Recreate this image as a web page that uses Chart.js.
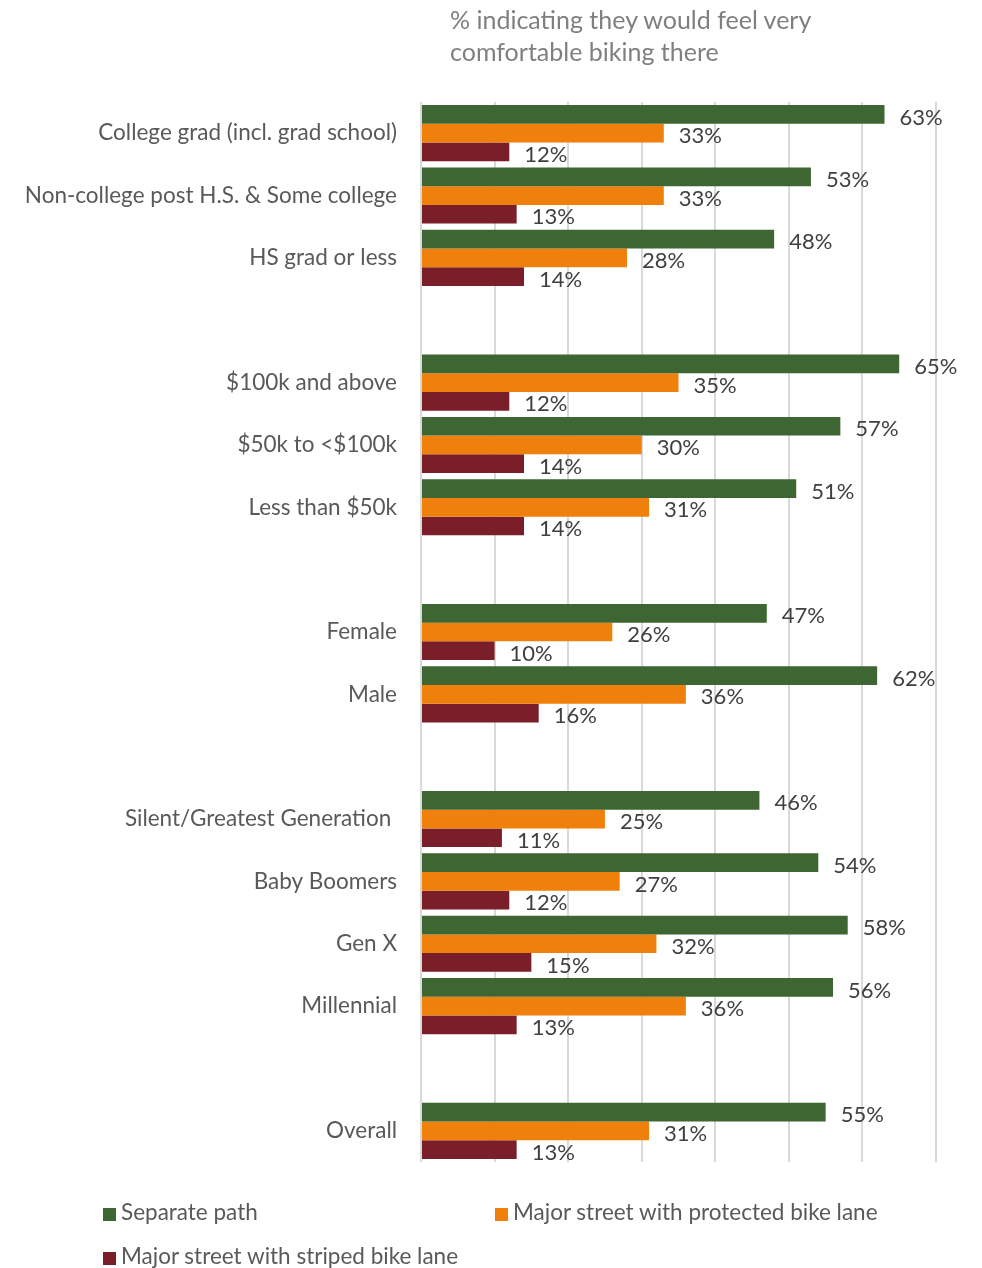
<!DOCTYPE html>
<html>
<head>
<meta charset="utf-8">
<script src="https://cdn.jsdelivr.net/npm/chart.js@4"></script>
<style>
  html, body { margin: 0; padding: 0; background: #fff; }
  #wrap { position: relative; width: 982px; height: 1268px; overflow: hidden; }
  #canvas { position: absolute; left: 0; top: 0; }
  .title { position: absolute; left: 450px; top: 3px; font: 25px Lato, sans-serif; line-height: 32px; color: #7f7f7f; }
  .key { position: absolute; font: 22.5px Lato, sans-serif; color: #595959; white-space: nowrap; }
  .key i { display: inline-block; width: 13px; height: 13px; margin-right: 5px; vertical-align: -1px; }
</style>
</head>
<body>
<div id="wrap">
  <canvas id="canvas" width="982" height="1268"></canvas>
  <div class="title">% indicating they would feel very<br>comfortable biking there</div>
  <div class="key" style="left:103px; top:1198px"><i style="background:#3d6632"></i>Separate path</div>
  <div class="key" style="left:495px; top:1198px"><i style="background:#f0800c"></i>Major street with protected bike lane</div>
  <div class="key" style="left:103px; top:1242px"><i style="background:#7a1f2a"></i>Major street with striped bike lane</div>
</div>
<script>
// empty strings are spacer rows between the groups
const categories = [
  "College grad (incl. grad school)", "Non-college post H.S. & Some college", "HS grad or less", "",
  "$100k and above", "$50k to <$100k", "Less than $50k", "",
  "Female", "Male", "",
  "Silent/Greatest Generation ", "Baby Boomers", "Gen X", "Millennial", "",
  "Overall"
];
const separatePath = [63, 53, 48, null, 65, 57, 51, null, 47, 62, null, 46, 54, 58, 56, null, 55];
const protectedLane = [33, 33, 28, null, 35, 30, 31, null, 26, 36, null, 25, 27, 32, 36, null, 31];
const stripedLane = [12, 13, 14, null, 12, 14, 14, null, 10, 16, null, 11, 12, 15, 13, null, 13];
const xTicks = [0, 10, 20, 30, 40, 50, 60, 70];

const barLabels = {
  id: "barLabels",
  afterDatasetsDraw(chart) {
    const ctx = chart.ctx;
    ctx.save();
    ctx.font = "22px Lato, sans-serif";
    ctx.fillStyle = "#404040";
    ctx.textAlign = "left";
    ctx.textBaseline = "middle";
    chart.data.datasets.forEach((ds, i) => {
      chart.getDatasetMeta(i).data.forEach((bar, j) => {
        const v = ds.data[j];
        if (v == null) return;
        ctx.fillText(v + "%", bar.x + 15, bar.y + 3);
      });
    });
    ctx.restore();
  }
};

Chart.defaults.font.family = "Lato, sans-serif";

new Chart(document.getElementById("canvas").getContext("2d"), {
  type: "bar",
  data: {
    labels: categories,
    datasets: [
      { label: "Separate path", data: separatePath, backgroundColor: "#3d6632" },
      { label: "Major street with protected bike lane", data: protectedLane, backgroundColor: "#f0800c" },
      { label: "Major street with striped bike lane", data: stripedLane, backgroundColor: "#7a1f2a" }
    ]
  },
  options: {
    indexAxis: "y",
    responsive: false,
    animation: false,
    layout: { padding: { left: 0, right: 46, top: 102, bottom: 106 } },
    datasets: { bar: { categoryPercentage: 0.9, barPercentage: 1.0 } },
    plugins: { legend: { display: false }, tooltip: { enabled: false } },
    scales: {
      x: {
        min: 0,
        max: 70,
        afterBuildTicks: (s) => { s.ticks = xTicks.map((v) => ({ value: v })); },
        ticks: { display: false },
        grid: { color: "#d9d9d9", lineWidth: 2, drawTicks: false },
        border: { display: false },
        afterFit: (s) => { s.height = 0; }
      },
      y: {
        grid: { display: false, drawTicks: false },
        border: { display: false },
        ticks: { color: "#595959", font: { size: 22.5 }, padding: 24, autoSkip: false },
        afterFit: (s) => { s.width = 421; }
      }
    }
  },
  plugins: [barLabels]
});
</script>
</body>
</html>
